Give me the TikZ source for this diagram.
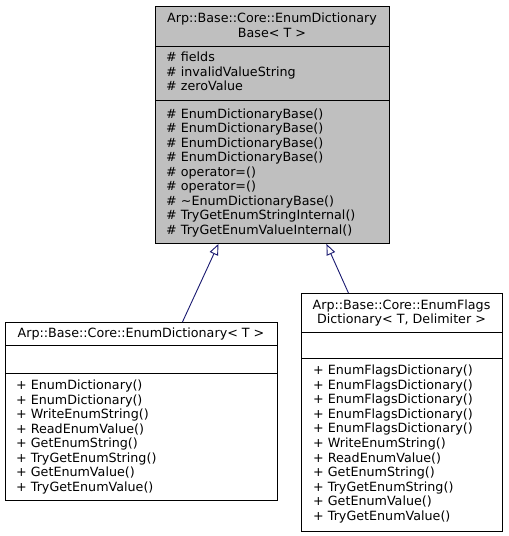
\documentclass[tikz,border=0pt]{standalone}
\usepackage{fontspec}
\setmainfont{DejaVu Sans}
\usetikzlibrary{arrows.meta}
\definecolor{midnight}{HTML}{191970}
\definecolor{grey75}{HTML}{BFBFBF}
\begin{document}
\begin{tikzpicture}[x=1pt,y=-1pt,
  box/.style={draw=black, line width=0.9pt, anchor=north west, inner sep=0pt},
  txt/.style={anchor=base west, inner sep=0pt, font=\fontsize{12.7}{14.5}\selectfont},
  ttl/.style={anchor=base, inner sep=0pt, font=\fontsize{12.7}{14.5}\selectfont},
  sep/.style={draw=black, line width=0.9pt},
  inh/.style={draw=midnight, line width=0.9pt, -{Triangle[open, length=11pt, width=9pt]}}]
\useasboundingbox (0,0) rectangle (509,536);

% base class
\node[box, fill=grey75, minimum width=234pt, minimum height=237pt] (base) at (155,6) {};
\draw[sep] (155,46) -- (389,46);
\draw[sep] (155,100) -- (389,100);
\node[ttl] (bt1) at (272,22.8) {Arp::Base::Core::EnumDictionary};
\node[ttl] (bt2) at (272,37.3) {Base< T >};
\foreach \t [count=\i from 0] in {{\# fields},{\# invalidValueString},{\# zeroValue}}
  \node[txt] (bf\i) at (166,{61.5+14.5*\i}) {\t};
\foreach \t [count=\i from 0] in {{\# EnumDictionaryBase()},{\# EnumDictionaryBase()},{\# EnumDictionaryBase()},{\# EnumDictionaryBase()},{\# operator=()},{\# operator=()},{\# \textasciitilde EnumDictionaryBase()},{\# TryGetEnumStringInternal()},{\# TryGetEnumValueInternal()}}
  \node[txt] (bm\i) at (166,{118+14.5*\i}) {\t};

% left derived class
\node[box, fill=white, minimum width=272pt, minimum height=178pt] (left) at (5,322) {};
\draw[sep] (5,345) -- (277,345);
\draw[sep] (5,373) -- (277,373);
\node[ttl] (lt1) at (141,337.6) {Arp::Base::Core::EnumDictionary< T >};
\foreach \t [count=\i from 0] in {{+ EnumDictionary()},{+ EnumDictionary()},{+ WriteEnumString()},{+ ReadEnumValue()},{+ GetEnumString()},{+ TryGetEnumString()},{+ GetEnumValue()},{+ TryGetEnumValue()}}
  \node[txt] (lm\i) at (16,{389.5+14.5*\i}) {\t};

% right derived class
\node[box, fill=white, minimum width=201pt, minimum height=238pt] (right) at (301,293) {};
\draw[sep] (301,332) -- (502,332);
\draw[sep] (301,358) -- (502,358);
\node[ttl] (rt1) at (401.5,309) {Arp::Base::Core::EnumFlags};
\node[ttl] (rt2) at (401.5,323.5) {Dictionary< T, Delimiter >};
\foreach \t [count=\i from 0] in {{+ EnumFlagsDictionary()},{+ EnumFlagsDictionary()},{+ EnumFlagsDictionary()},{+ EnumFlagsDictionary()},{+ EnumFlagsDictionary()},{+ WriteEnumString()},{+ ReadEnumValue()},{+ GetEnumString()},{+ TryGetEnumString()},{+ GetEnumValue()},{+ TryGetEnumValue()}}
  \node[txt] (rm\i) at (313,{374.5+14.6*\i}) {\t};

% inheritance
\draw[inh] ([xshift=41pt]left.north) -- ([xshift=-54pt]base.south);
\draw[inh] ([xshift=-53.5pt]right.north) -- ([xshift=54pt]base.south);
\end{tikzpicture}
\end{document}
